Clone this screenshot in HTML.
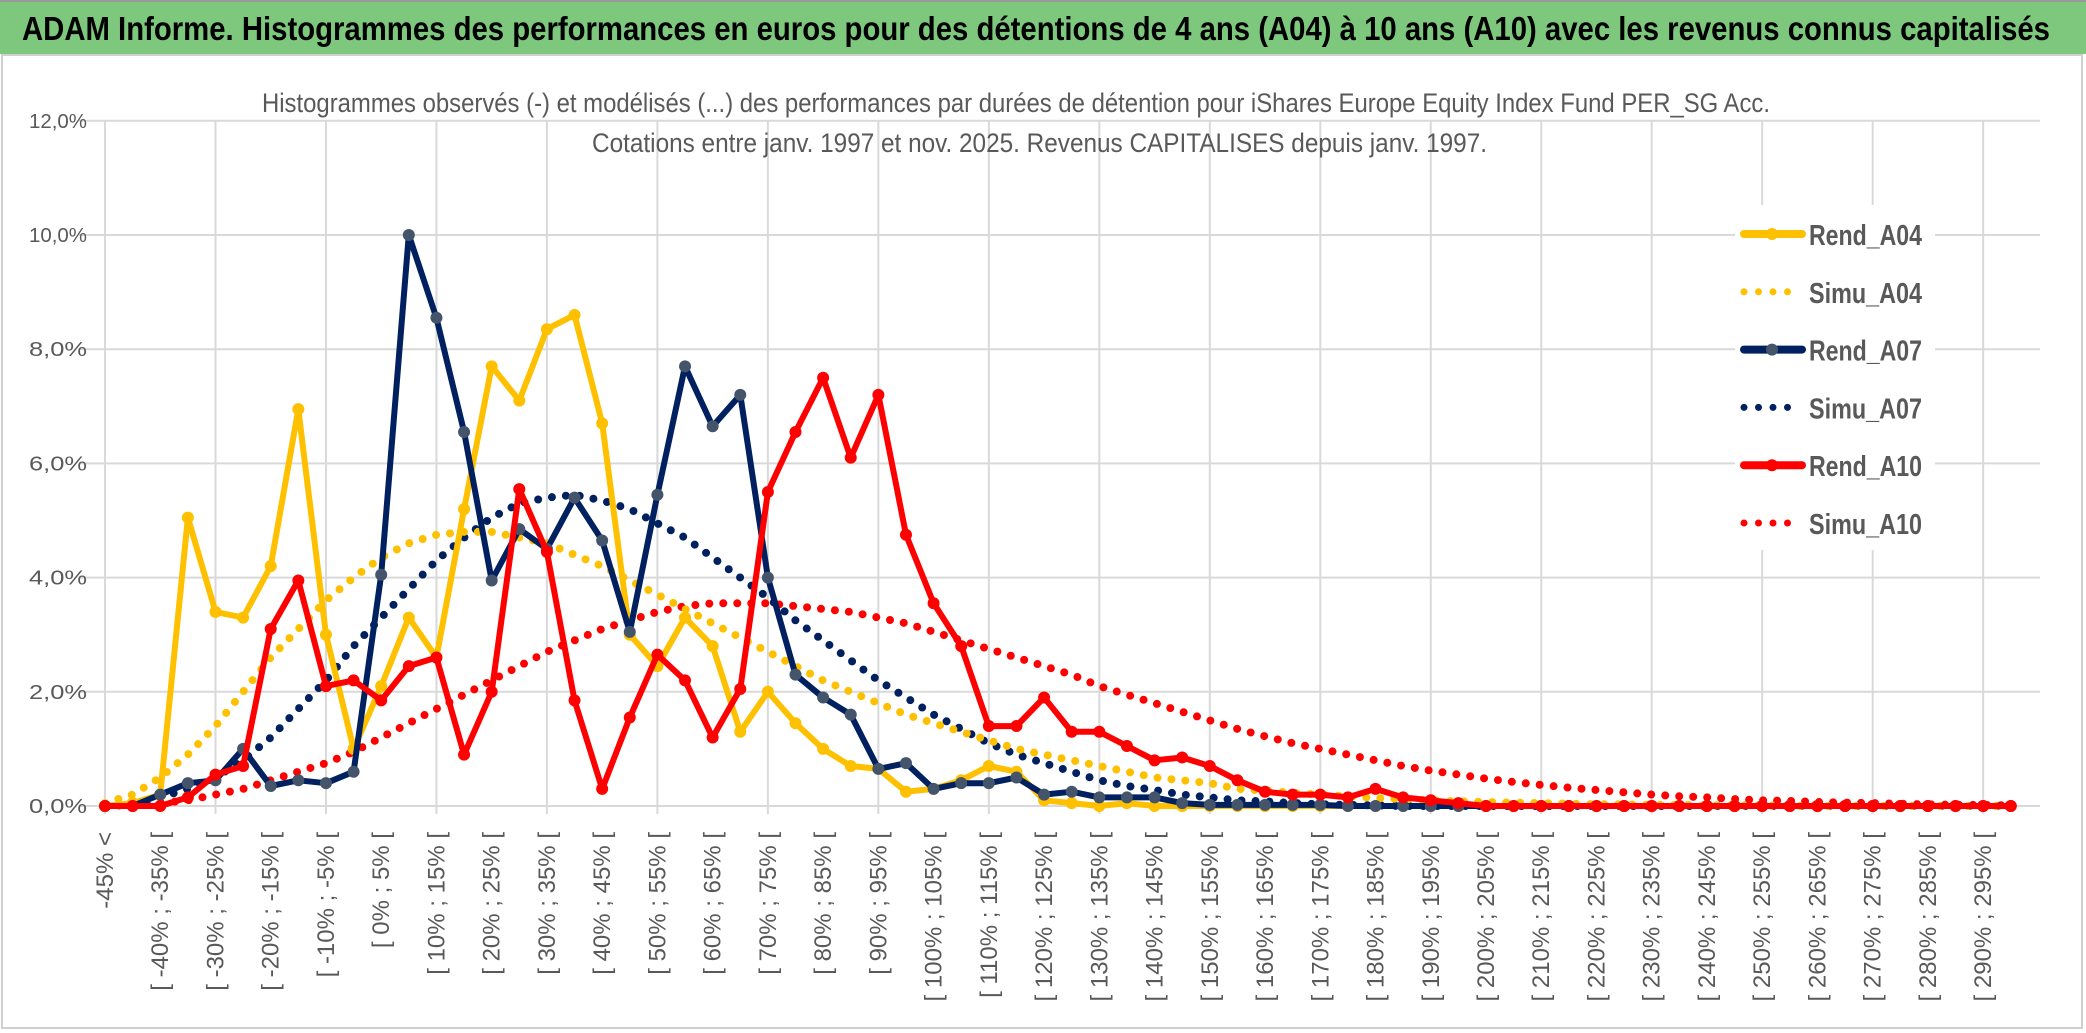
<!DOCTYPE html>
<html><head><meta charset="utf-8">
<style>
html,body{margin:0;padding:0;background:#fff;}
body{width:2086px;height:1033px;overflow:hidden;position:relative;font-family:"Liberation Sans",sans-serif;}
#title{position:absolute;left:0;top:0;width:2086px;height:54px;background:#7DC87D;border-top:2px solid #999;box-sizing:border-box;}
svg{position:absolute;left:0;top:0;}
</style></head><body>
<div id="title"></div>
<svg id="chart" width="2086" height="1033" style="top:0"></svg>
<script>
const categoryCount = 70;
const yTicks = [0,2,4,6,8,10,12];
const rendA04 = [0,0.05,0.2,5.05,3.4,3.3,4.2,6.95,3.0,1.0,2.1,3.3,2.6,5.2,7.7,7.1,8.35,8.6,6.7,3.0,2.45,3.3,2.8,1.3,2.0,1.45,1.0,0.7,0.65,0.25,0.3,0.45,0.7,0.6,0.1,0.05,0,0.05,0,0,0,0,0,0,0,0,0,0,0,0,0,0,0,0,0,0,0,0,0,0,0,0,0,0,0,0,0,0,0,0];
const simuA04 = [0.05,0.2,0.5,0.9,1.4,2.0,2.6,3.1,3.6,4.0,4.35,4.6,4.75,4.8,4.8,4.7,4.6,4.4,4.2,3.95,3.7,3.45,3.2,2.95,2.7,2.45,2.2,2.0,1.8,1.6,1.45,1.3,1.15,1.0,0.9,0.8,0.7,0.6,0.5,0.45,0.4,0.3,0.27,0.23,0.2,0.17,0.14,0.12,0.1,0.08,0.07,0.06,0.05,0.04,0.03,0.03,0.02,0.02,0.01,0.01,0.01,0,0,0,0,0,0,0,0,0];
const rendA07 = [0,0,0.2,0.4,0.45,1.0,0.35,0.45,0.4,0.6,4.05,10.0,8.55,6.55,3.95,4.85,4.5,5.4,4.65,3.05,5.45,7.7,6.65,7.2,4.0,2.3,1.9,1.6,0.65,0.75,0.3,0.4,0.4,0.5,0.2,0.25,0.15,0.15,0.15,0.05,0.02,0.02,0.02,0.02,0.02,0,0,0,0,0,0,0,0,0,0,0,0,0,0,0,0,0,0,0,0,0,0,0,0,0];
const simuA07 = [0,0.05,0.15,0.3,0.5,0.8,1.2,1.7,2.2,2.8,3.3,3.8,4.3,4.7,5.05,5.3,5.4,5.45,5.35,5.2,4.95,4.7,4.35,4.0,3.65,3.25,2.9,2.55,2.2,1.9,1.6,1.35,1.1,0.9,0.75,0.6,0.45,0.35,0.28,0.2,0.15,0.1,0.08,0.05,0.03,0.02,0.01,0,0,0,0,0,0,0,0,0,0,0,0,0,0,0,0,0,0,0,0,0,0,0];
const rendA10 = [0,0,0,0.15,0.55,0.7,3.1,3.95,2.1,2.2,1.85,2.45,2.6,0.9,2.0,5.55,4.45,1.85,0.3,1.55,2.65,2.2,1.2,2.05,5.5,6.55,7.5,6.1,7.2,4.75,3.55,2.8,1.4,1.4,1.9,1.3,1.3,1.05,0.8,0.85,0.7,0.45,0.25,0.2,0.2,0.15,0.3,0.15,0.1,0.05,0,0,0,0,0,0,0,0,0,0,0,0,0,0,0,0,0,0,0,0];
const simuA10 = [0,0.02,0.05,0.1,0.2,0.3,0.45,0.6,0.75,0.95,1.2,1.45,1.7,1.95,2.2,2.45,2.7,2.9,3.1,3.25,3.4,3.5,3.55,3.55,3.55,3.5,3.45,3.4,3.3,3.2,3.05,2.9,2.75,2.6,2.45,2.3,2.1,1.95,1.8,1.65,1.5,1.35,1.22,1.1,1.0,0.9,0.8,0.7,0.62,0.55,0.48,0.42,0.37,0.32,0.28,0.24,0.2,0.17,0.15,0.12,0.1,0.09,0.07,0.06,0.05,0.04,0.03,0.02,0.02,0.01];

const NS='http://www.w3.org/2000/svg';
const svg=document.getElementById('chart');
const X0=105, STEP=27.62, Y0=806, YPX=57.1;
function xs(i){return X0+i*STEP;}
function ys(v){return Y0-v*YPX;}
function mk(tag,attrs,parent){const e=document.createElementNS(NS,tag);for(const k in attrs)e.setAttribute(k,attrs[k]);(parent||svg).appendChild(e);return e;}
function catLabel(i){if(i===0)return '-45% <';const a=-50+5*i;return '[ '+a+'% ; '+(a+5)+'% [';}

// title
const tt=mk('text',{x:22,y:40,'font-size':33,'font-weight':'bold',fill:'#000',textLength:2028,lengthAdjust:'spacingAndGlyphs'});
tt.textContent='ADAM Informe. Histogrammes des performances en euros pour des détentions de 4 ans (A04) à 10 ans (A10) avec les revenus connus capitalisés';



// chart border
const border=mk('rect',{x:2,y:55,width:2080,height:973,fill:'none',stroke:'#d0d0d0','stroke-width':2});



// gridlines
for(const t of yTicks){
  const g=mk('line',{x1:X0-26,x2:2040,y1:ys(t),y2:ys(t),stroke:'#d9d9d9','stroke-width':2});
  
  
  const tx=mk('text',{x:87,y:ys(t)+7,'text-anchor':'end','font-size':20,fill:'#595959',textLength:58,lengthAdjust:'spacingAndGlyphs'});
  tx.textContent=t.toFixed(1).replace('.',',')+'%';
  
  
}
for(let i=0;i<categoryCount;i+=4){
  const g=mk('line',{x1:xs(i),x2:xs(i),y1:ys(12),y2:Y0+8,stroke:'#d9d9d9','stroke-width':2});
  
  
}
// x labels
for(let i=0;i<categoryCount;i+=2){
  const x=xs(i)+8,y=832;
  const tx=mk('text',{x:x,y:y,'text-anchor':'end','font-size':24,fill:'#595959',transform:'rotate(-90 '+x+' '+y+')'});
  tx.textContent=catLabel(i);
  
  
}
// subtitle
const st1=mk('text',{x:262,y:112,'font-size':27,fill:'#595959',textLength:1508,lengthAdjust:'spacingAndGlyphs'});
st1.textContent='Histogrammes observés (-) et modélisés (...) des performances par durées de détention pour iShares Europe Equity Index Fund PER_SG Acc.';


const st2=mk('text',{x:592,y:152,'font-size':27,fill:'#595959',textLength:895,lengthAdjust:'spacingAndGlyphs'});
st2.textContent='Cotations entre janv. 1997 et nov. 2025. Revenus CAPITALISES depuis janv. 1997.';



function pts(arr){return arr.map((v,i)=>xs(i).toFixed(1)+','+ys(v).toFixed(1)).join(' ');}
function dotted(arr,color,name){
  const p=mk('polyline',{points:pts(arr),fill:'none',stroke:color,'stroke-width':8,'stroke-linecap':'round','stroke-dasharray':'0 14'});
  
  
}
function solid(arr,color,mcolor,name){
  const p=mk('polyline',{points:pts(arr),fill:'none',stroke:color,'stroke-width':6,'stroke-linejoin':'round'});
  
  
  arr.forEach((v,i)=>{
    const c=mk('circle',{cx:xs(i),cy:ys(v),r:6,fill:mcolor});
    
    
  });
}
dotted(simuA10,'#FF0000','simu-a10-line');
dotted(simuA07,'#002060','simu-a07-line');
dotted(simuA04,'#FFC000','simu-a04-line');
solid(rendA04,'#FFC000','#FFC000','rend-a04-line');
solid(rendA07,'#002060','#44546A','rend-a07-line');
solid(rendA10,'#FF0000','#FF0000','rend-a10-line');

// legend
const legend=[['Rend_A04','#FFC000','#FFC000',false],['Simu_A04','#FFC000','',true],['Rend_A07','#002060','#44546A',false],['Simu_A07','#002060','',true],['Rend_A10','#FF0000','#FF0000',false],['Simu_A10','#FF0000','',true]];
const lg=mk('rect',{x:1735,y:205,width:200,height:345,fill:'#fff'});


legend.forEach((e,k)=>{
  const y=234+k*57.8;
  if(e[3]){
    const l=mk('line',{x1:1744,x2:1790,y1:y,y2:y,stroke:e[1],'stroke-width':7,'stroke-linecap':'round','stroke-dasharray':'0 14.5'});
    
    
  } else {
    const l=mk('line',{x1:1744,x2:1802,y1:y,y2:y,stroke:e[1],'stroke-width':8,'stroke-linecap':'round'});
    
    
    const c=mk('circle',{cx:1772,cy:y,r:6,fill:e[2]});
    
    
  }
  const t=mk('text',{x:1809,y:y+11,'font-size':29,fill:'#595959','font-weight':'bold',textLength:113,lengthAdjust:'spacingAndGlyphs'});
  t.textContent=e[0];
  
  
});
</script>
</body></html>
